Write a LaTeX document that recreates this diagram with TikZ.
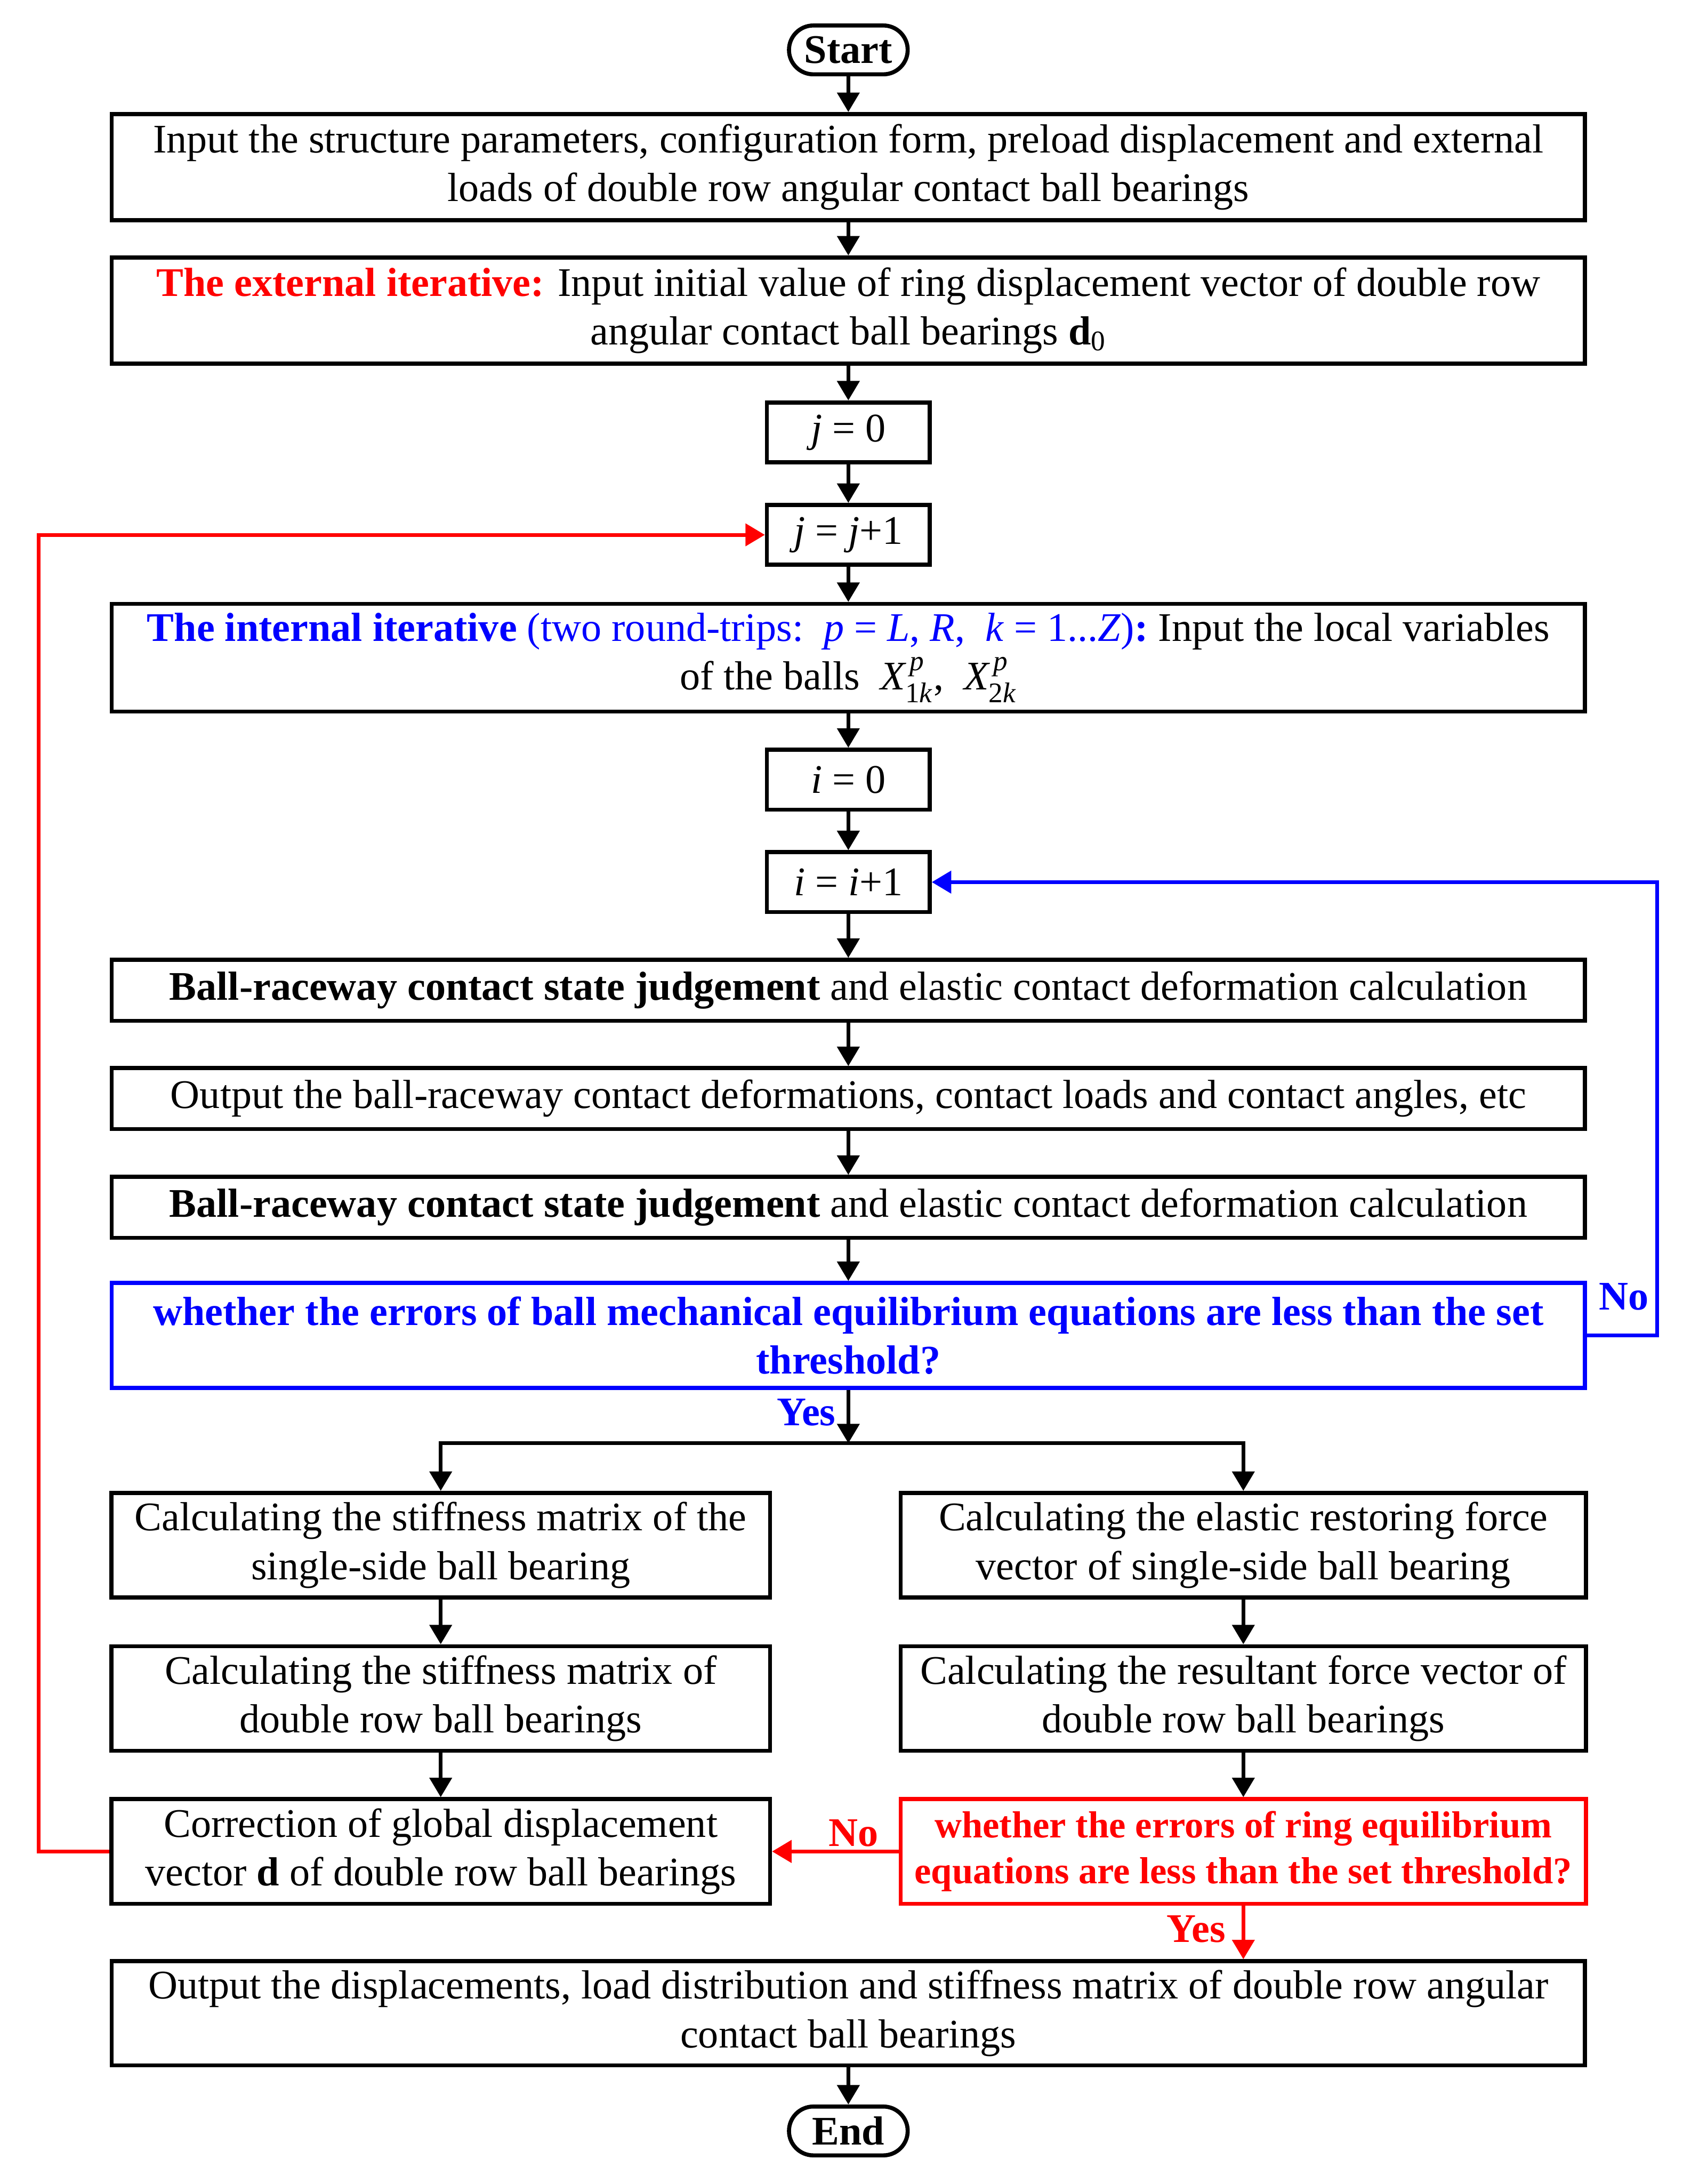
\documentclass[tikz,border=0pt]{standalone}
\usepackage{amsmath}
\usepackage{fontspec}
\setmainfont{Liberation Serif}
\usetikzlibrary{calc, positioning}
\usetikzlibrary{arrows.meta}
\usetikzlibrary{shapes.misc}

\begin{document}
\begin{tikzpicture}[
    font=\fontsize{22}{26.4}\selectfont,
    box/.style={draw, line width=2.2pt, align=center, minimum height=1.16cm, inner sep=2pt},
    widebox/.style={box, minimum width=28.05cm},
    leftbox/.style={box, minimum width=12.54cm, minimum height=1.99cm},
    rightbox/.style={box, minimum width=13.05cm, minimum height=1.99cm},
    smallbox/.style={box, minimum width=3.1cm, minimum height=1.14cm},
    term/.style={draw, line width=2.2pt, rounded rectangle, minimum width=2.33cm,
        minimum height=0.93cm, inner sep=1pt, font=\fontsize{22}{26.4}\selectfont\bfseries},
    flow/.style={line width=2pt, -{Triangle[length=0.37cm, width=0.42cm]}},
    answer/.style={font=\fontsize{22}{26.4}\selectfont\bfseries},
  ]
\useasboundingbox (0,0) rectangle (32.19,-41.57);

% main column
\node[term] (start) at (16.15,-0.95) {Start};
\node[widebox, minimum height=2.02cm] (inp) at (16.15,-3.18)
    {Input the structure parameters, configuration form, preload displacement and external\\
     loads of double row angular contact ball bearings};
\node[widebox, minimum height=2.02cm] (ext) at (16.15,-5.91)
    {\textcolor{red}{\textbf{The external iterative:}} Input initial value of ring displacement vector of double row\\
     angular contact ball bearings \textbf{d}\textsubscript{0}};
\node[smallbox] (j0) at (16.15,-8.23) {\textit{j} = 0};
\node[smallbox] (j1) at (16.15,-10.18) {\textit{j} = \textit{j}+1};
\node[widebox, minimum height=2.05cm] (intl) at (16.15,-12.52)
    {{\color{blue}\textbf{The internal iterative} (two round-trips:\ \ \textit{p} = \textit{L}, \textit{R},\ \ \textit{k} = 1...\textit{Z})\textbf{:}} Input the local variables\\
     of the balls\ \ $\textit{X}_{\text{1\textit{k}}}^{\,\textit{p}}$,\ \ $\textit{X}_{\text{2\textit{k}}}^{\,\textit{p}}$};
\node[smallbox] (i0) at (16.15,-14.84) {\textit{i} = 0};
\node[smallbox] (i1) at (16.15,-16.79) {\textit{i} = \textit{i}+1};
\node[widebox] (judge1) at (16.15,-18.85)
    {\textbf{Ball-raceway contact state judgement} and elastic contact deformation calculation};
\node[widebox] (outp) at (16.15,-20.91)
    {Output the ball-raceway contact deformations, contact loads and contact angles, etc};
\node[widebox] (judge2) at (16.15,-22.98)
    {\textbf{Ball-raceway contact state judgement} and elastic contact deformation calculation};
\node[widebox, draw=blue, text=blue, font=\fontsize{22}{26.4}\selectfont\bfseries, minimum height=2.0cm] (ballq) at (16.15,-25.42)
    {whether the errors of ball mechanical equilibrium equations are less than the set\\ threshold?};

% two columns
\node[leftbox] (lft1) at (8.39,-29.41)
    {Calculating the stiffness matrix of the\\ single-side ball bearing};
\node[leftbox] (lft2) at (8.39,-32.33)
    {Calculating the stiffness matrix of\\ double row ball bearings};
\node[leftbox] (lft3) at (8.39,-35.24)
    {Correction of global displacement\\ vector \textbf{d} of double row ball bearings};
\node[rightbox] (rgt1) at (23.67,-29.41)
    {Calculating the elastic restoring force\\ vector of single-side ball bearing};
\node[rightbox] (rgt2) at (23.67,-32.33)
    {Calculating the resultant force vector of\\ double row ball bearings};
\node[rightbox, draw=red, text=red, font=\fontsize{20.4}{24.7}\selectfont\bfseries] (rgtq) at (23.67,-35.24)
    {whether the errors of ring equilibrium\\ equations are less than the set threshold?};

\node[widebox, minimum height=1.98cm] (fin) at (16.15,-38.32)
    {Output the displacements, load distribution and stiffness matrix of double row angular\\
     contact ball bearings};
\node[term] (end) at (16.15,-40.56) {End};

% connectors
\draw[flow] (start) -- (inp);
\draw[flow] (inp) -- (ext);
\draw[flow] (ext) -- (j0);
\draw[flow] (j0) -- (j1);
\draw[flow] (j1) -- (intl);
\draw[flow] (intl) -- (i0);
\draw[flow] (i0) -- (i1);
\draw[flow] (i1) -- (judge1);
\draw[flow] (judge1) -- (outp);
\draw[flow] (outp) -- (judge2);
\draw[flow] (judge2) -- (ballq);

\coordinate (split) at (16.15,-27.47);
\draw[flow] (ballq) -- (split);
\draw[line width=2pt, line cap=rect] (lft1.north |- split) -- (rgt1.north |- split);
\draw[flow] (lft1.north |- split) -- (lft1);
\draw[flow] (rgt1.north |- split) -- (rgt1);
\draw[flow] (lft1) -- (lft2);
\draw[flow] (lft2) -- (lft3);
\draw[flow] (rgt1) -- (rgt2);
\draw[flow] (rgt2) -- (rgtq);
\draw[flow] (fin) -- (end);

% loops
\coordinate (bluex) at (31.55,0);
\coordinate (redx) at (0.74,0);
\draw[flow, blue] (ballq.east) -- (ballq.east -| bluex) |- (i1.east);
\draw[flow, red] (lft3.west) -- (lft3.west -| redx) |- (j1.west);
\draw[flow, red] (rgtq) -- (lft3);
\draw[flow, red] (rgtq.south) -- (rgtq.south |- fin.north);

% answers
\node[answer, text=blue] (noball) at (30.91,-24.68) {No};
\node[answer, text=blue] (yesball) at (15.35,-26.88) {Yes};
\node[answer, text=red] (noring) at (16.25,-34.89) {No};
\node[answer, text=red] (yesring) at (22.77,-36.72) {Yes};
\end{tikzpicture}
\end{document}
